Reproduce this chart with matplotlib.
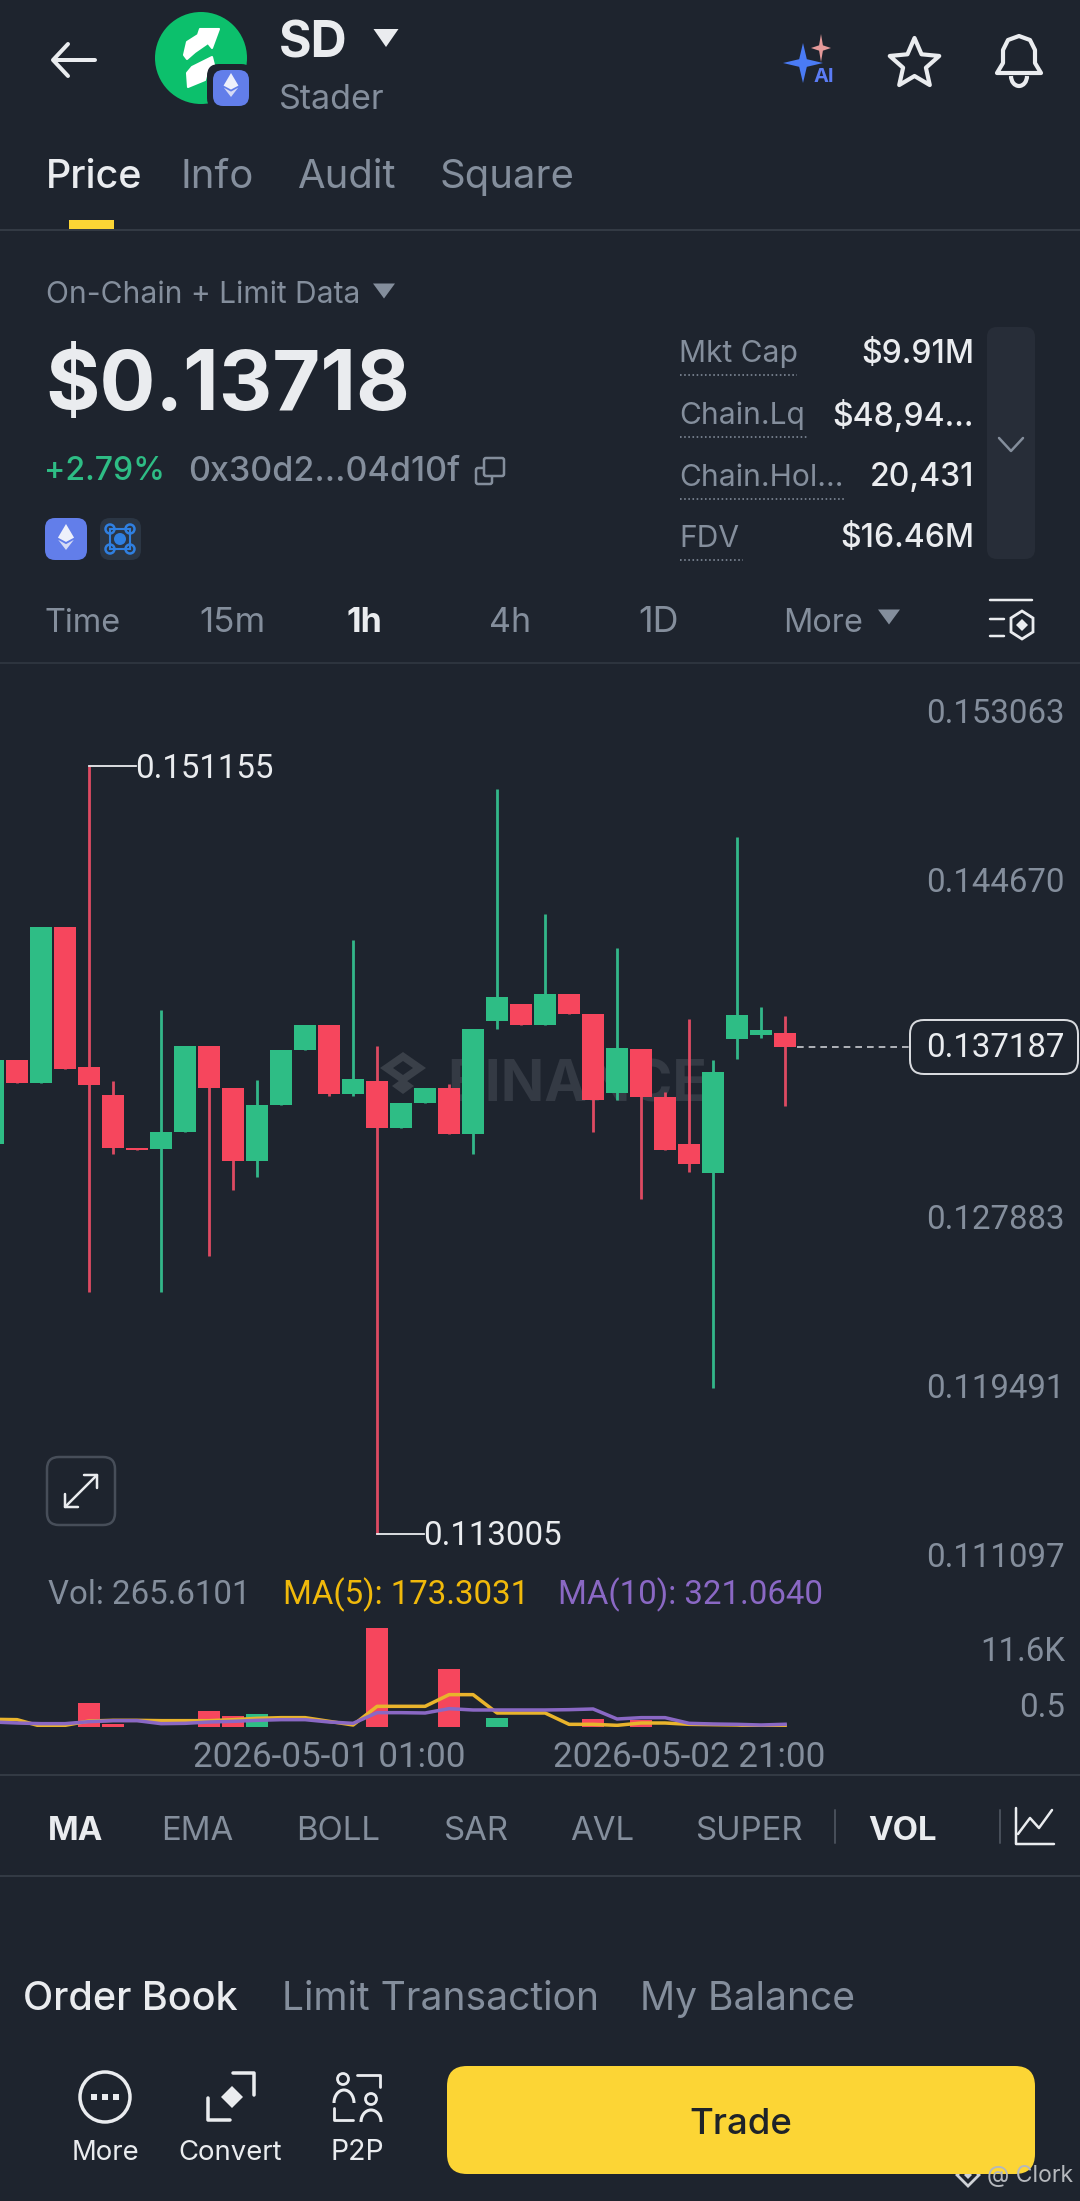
import numpy as np
import matplotlib
matplotlib.use("Agg")
import matplotlib.pyplot as plt
from matplotlib.patches import Circle, FancyBboxPatch, Polygon, Rectangle, Arc
from matplotlib.transforms import Affine2D

# ---------- data ----------
candle_idx = list(range(34))
opens = [0.132358,0.136527,0.135396,0.143180,0.136217,0.134820,0.132203,0.132136,0.132957,0.137237,0.135152,0.131537,
         0.134310,0.137059,0.138301,0.134864,0.135529,0.133156,0.134398,0.135152,0.132868,0.138501,0.139322,0.138279,
         0.139832,0.138834,0.134908,0.137104,0.134731,0.132358,0.130916,0.137614,0.137813,0.137880]
closes = [0.136527,0.135396,0.143180,0.136084,0.135285,0.132203,0.132092,0.132957,0.137237,0.135152,0.131537,0.134310,
          0.137059,0.138301,0.134842,0.135618,0.133156,0.134398,0.135152,0.132868,0.138080,0.139676,0.138279,0.139832,
          0.138834,0.134576,0.137126,0.134731,0.132070,0.131360,0.135951,0.138767,0.138035,0.137187]
highs = [0.136527,0.136527,0.143180,0.143180,0.151155,0.135507,0.132203,0.139011,0.137237,0.137237,0.135152,0.135551,
         0.137059,0.138301,0.138301,0.142493,0.137237,0.134398,0.135152,0.135352,0.138080,0.149989,0.139322,0.143823,
         0.139832,0.138834,0.142116,0.137104,0.134975,0.138612,0.136572,0.147638,0.139188,0.138745]
lows = [0.132358,0.135396,0.135396,0.136084,0.125040,0.131870,0.132092,0.125040,0.132957,0.126814,0.130074,0.130739,
        0.134310,0.137059,0.134753,0.134753,0.113005,0.133156,0.134398,0.132868,0.131870,0.138080,0.138279,0.138279,
        0.138834,0.132979,0.134576,0.129652,0.132070,0.131005,0.120271,0.136616,0.137636,0.134265]
price_ticks = [0.153063,0.144670,0.127883,0.119491,0.111097]
price_tick_labels = ["0.153063","0.144670","0.127883","0.119491","0.111097"]
high_label, low_label, last_price = 0.151155, 0.113005, 0.137187

volumes = [40,40,40,40,2860,392,40,40,40,1840,1254,1528,40,40,40,40,11600,40,40,6820,40,1019,40,40,40,901,40,784,40,40,40,40,40,40]
ma5 = [902,862,78,196,706,784,784,745,745,745,862,1019,1098,1098,666,235,2430,2430,2430,3802,3802,1646,1646,1646,314,314,196,470,470,314,274,235,78,173]
ma10 = [588,470,392,392,627,745,745,392,431,588,666,784,862,862,588,431,1685,1685,1646,2156,2000,2000,2000,2000,2038,2117,941,1098,1098,431,353,314,235,321]
vol_ticks_values = [11600, 0]
vol_tick_labels = ["11.6K", "0.5"]
date_ticks = [14, 29]
date_labels = ["2026-05-01 01:00", "2026-05-02 21:00"]

# ---------- style ----------
W, H = 1080, 2201
BG = "#1e242e"; UP = "#2EBD85"; DOWN = "#F6465D"; UPW = "#33b689"; DOWNW = "#dd4a62"
WHITE = "#eaecef"; GRAY = "#848e9c"; LINE = "#333a44"; YEL = "#fcd535"
MA5C = "#e9b42c"; MA10C = "#8a68c4"
plt.rcParams['font.family'] = ['Inter', 'DejaVu Sans']
NUM = ['Roboto', 'DejaVu Sans']

fig = plt.figure(figsize=(W/100, H/100), dpi=100, facecolor=BG)
ui = fig.add_axes([0, 0, 1, 1], zorder=0)
ui.set_xlim(0, W); ui.set_ylim(H, 0); ui.axis("off")

def T(x, y, s, px, color=WHITE, weight="normal", ha="left", ax=ui, **kw):
    return ax.text(x, y+6, s, fontsize=px*0.72, color=color, fontweight=weight, ha=ha, va="center", **kw)
def L(xs, ys, color=WHITE, lw=2.0, **kw):
    kw.setdefault("solid_capstyle", "round"); kw.setdefault("solid_joinstyle", "round")
    ui.plot(xs, ys, color=color, lw=lw*0.72, **kw)
def RR(x0, y0, x1, y1, r, fc="none", ec="none", lw=0, z=2):
    ui.add_patch(FancyBboxPatch((x0+r, y0+r), x1-x0-2*r, y1-y0-2*r, boxstyle=f"round,pad={r}",
                                fc=fc, ec=ec, lw=lw*0.72, zorder=z))
def TRI(cx, cy, w, h, color):
    ui.add_patch(Polygon([(cx-w/2, cy-h/2), (cx+w/2, cy-h/2), (cx, cy+h/2)], fc=color, ec="none"))
def SPARK(cx, cy, rx, ry, color, z=3):
    pts = []
    for i in range(8):
        a = np.pi/2*i/2
        k = 1 if i % 2 == 0 else 0.27
        pts.append((cx+k*rx*np.sin(a), cy-k*ry*np.cos(a)))
    ui.add_patch(Polygon(pts, fc=color, ec="none", zorder=z))
def ETH(cx, cy, s):
    ui.add_patch(Polygon([(cx, cy-s), (cx+0.62*s, cy+0.05*s), (cx, cy+0.38*s), (cx-0.62*s, cy+0.05*s)], fc="#eef0fb", ec="none", zorder=6))
    ui.add_patch(Polygon([(cx, cy+0.55*s), (cx+0.6*s, cy+0.22*s), (cx, cy+1.0*s), (cx-0.6*s, cy+0.22*s)], fc="#d6dbf5", ec="none", zorder=6))

# ---------- header ----------
L([54, 95], [60, 60], lw=4); L([68, 53, 68], [44, 60, 76], lw=4)
ui.add_patch(Circle((201, 58), 46, fc="#0cc06c", ec="none"))
ui.add_patch(Polygon([(184,55),(187,42),(198,35),(200,29),(219,29),(212,48),(208,43),(195,52),(187,59)], fc="white", ec="white", lw=1.5, joinstyle="round", zorder=3))
ui.add_patch(Polygon([(187,73),(192,67),(212,57),(214,65),(207,72),(205,80),(188,87)], fc="white", ec="white", lw=1.5, joinstyle="round", zorder=3))
RR(207, 64, 253, 110, 12, fc=BG, z=4)
RR(213, 70, 249, 106, 10, fc="#627eea", z=5)
ETH(231, 85, 12)
T(279, 38, "SD", 50, weight="bold")
TRI(386, 38, 25, 18, WHITE)
T(279, 94, "Stader", 34, GRAY)
SPARK(803, 63, 20, 20, "#4a7bf5")
SPARK(821, 48, 10, 14, "#e59a9a")
T(824, 71, "AI", 20, "#5b7cf5", weight="bold", ha="center")
a = np.linspace(-np.pi/2, 1.5*np.pi, 11)[:-1]
r = np.where(np.arange(10) % 2 == 0, 26, 12)
ui.add_patch(Polygon(np.c_[914.5+r*np.cos(a), 64+r*np.sin(a)], fc="none", ec=WHITE, lw=3, joinstyle="round"))
ui.add_patch(Polygon([(997,73),(1003,63),(1003,50),(1008,40),(1019,36),(1030,40),(1035,50),(1035,63),(1041,73)], fc="none", ec=WHITE, lw=3, joinstyle="round"))
ui.add_patch(Arc((1019, 76), 16, 20, theta1=0, theta2=180, ec=WHITE, lw=3))

# ---------- tabs ----------
T(46, 171, "Price", 39.5, WHITE, weight="medium")
T(181, 171, "Info", 40, GRAY); T(298, 171, "Audit", 40, GRAY); T(440, 171, "Square", 40, GRAY)
ui.add_patch(Rectangle((69, 220), 45, 9, fc=YEL, ec="none"))
L([0, W], [230, 230], LINE, 2)

# ---------- price block ----------
T(46, 289, "On-Chain + Limit Data", 30, GRAY)
TRI(384, 291, 22, 15, GRAY)
T(45, 382, "$0.13718", 83, WHITE, weight="bold")
T(44, 466, "+2.79%", 32, UP, weight="medium")
T(188, 466, "0x30d2...04d10f", 34, GRAY, weight="medium")
RR(476, 468, 492, 484, 2, ec=GRAY, lw=2.5); RR(484, 458, 504, 476, 2, ec=GRAY, lw=2.5, fc=BG, z=3)
RR(45, 518, 87, 560, 10, fc="#627eea"); ETH(66, 537, 13)
RR(100, 518, 141, 560, 10, fc="#2b3644")
for dx, dy in [(-10,-10),(10,-10),(-10,10),(10,10)]:
    ui.add_patch(Circle((120+dx, 539+dy), 4.5, fc="none", ec="#2f7fe0", lw=1.8, zorder=4))
ui.add_patch(Rectangle((110, 529), 20, 20, fc="none", ec="#2f7fe0", lw=1.5, zorder=4))
ui.add_patch(Circle((120, 539), 6, fc="#2f7fe0", ec="none", zorder=4))

rows = [("Mkt Cap", "$9.91M", 348, 117), ("Chain.Lq", "$48,94...", 410, 127),
        ("Chain.Hol...", "20,431", 472, 165), ("FDV", "$16.46M", 533, 63)]
for name, val, y, ulw in rows:
    T(679, y, name, 30, GRAY)
    T(974, y, val, 32, WHITE, ha="right", weight="medium")
    L([680, 680+ulw], [y+27, y+27], GRAY, 1.6, linestyle=(0, (1, 1.6)))
RR(987, 327, 1035, 559, 10, fc="#272d38")
L([999, 1011, 1023], [438, 451, 438], GRAY, 2.5)

# ---------- timeframes ----------
for x, s, c, w, sz in [(45,"Time",GRAY,"normal",32.5),(199,"15m",GRAY,"normal",35),(346,"1h",WHITE,"bold",34),
                       (489,"4h",GRAY,"normal",34),(638,"1D",GRAY,"normal",36),(783,"More",GRAY,"normal",32.5)]:
    T(x, 617, s, sz, c, weight=w)
TRI(889, 617, 22, 15, GRAY)
L([990, 1032], [600, 600], WHITE, 2.5)
L([990, 1004], [619, 619], WHITE, 2.5); L([990, 1004], [636, 636], WHITE, 2.5)
ui.add_patch(Polygon([(1011,618),(1022,611),(1033,618),(1033,632),(1022,639),(1011,632)], fc="none", ec=WHITE, lw=2))
ui.add_patch(Polygon([(1022,619),(1028,625),(1022,631),(1016,625)], fc=WHITE, ec="none"))
L([0, W], [663, 663], LINE, 1.5)

# ---------- watermark ----------
ui.add_patch(Polygon([(403,1052),(426,1068),(403,1084),(380,1068)], fc="#3a4049", ec="none"))
ui.add_patch(Polygon([(403,1061),(413,1068),(403,1075),(393,1068)], fc=BG, ec="none"))
ui.add_patch(Polygon([(403,1078),(414,1086),(403,1094),(392,1086)], fc="#3a4049", ec="none"))
T(447, 1080, "BINANCE", 57, "#343a44", weight="bold")

# ---------- price chart ----------
def px_to_frac(y):
    return 1 - y/H
top, bot = 664, 1590
ax = fig.add_axes([0, px_to_frac(bot), 1, (bot-top)/H], zorder=2)
ax.patch.set_alpha(0)
def price_at(y):
    return high_label - (y-766)/20131
ax.set_ylim(price_at(bot), price_at(top))
xl = (0+6.9)/24, (W+6.9)/24
ax.set_xlim(*xl)
for s in ax.spines.values():
    s.set_visible(False)
c_idx = np.array(candle_idx); o = np.array(opens); c = np.array(closes); h = np.array(highs); l = np.array(lows)
up = c >= o
ax.vlines(c_idx[up], l[up], h[up], color=UPW, lw=2.8*0.72, zorder=2)
ax.vlines(c_idx[~up], l[~up], h[~up], color=DOWNW, lw=2.8*0.72, zorder=2)
ax.bar(c_idx[up], (c-o)[up], bottom=o[up], width=0.89, color=UP, zorder=3)
ax.bar(c_idx[~up], (o-c)[~up], bottom=c[~up], width=0.89, color=DOWN, zorder=3)
ax.set_xticks([])
ax.yaxis.tick_right()
ax.set_yticks(price_ticks, price_tick_labels)
ax.tick_params(axis="y", length=0, pad=-11, labelsize=33*0.72, labelcolor=GRAY)
for lab in ax.get_yticklabels():
    lab.set_ha("right"); lab.set_va("bottom"); lab.set_fontfamily(NUM)
    lab.set_transform(lab.get_transform() + Affine2D().translate(0, -2))

ix_hi = int(np.argmax(h)); ix_lo = int(np.argmin(l))
ax.plot([ix_hi, ix_hi+1.95], [high_label]*2, color=WHITE, lw=1.3, zorder=4)
ax.annotate(f"{high_label:.6f}", xy=(ix_hi+1.9, high_label), xytext=(0, -3), textcoords="offset pixels",
            color=WHITE, fontsize=33*0.72, ha="left", va="center", zorder=4, family=NUM)
ax.plot([ix_lo, ix_lo+1.95], [low_label]*2, color=WHITE, lw=1.3, zorder=4)
ax.annotate(f"{low_label:.6f}", xy=(ix_lo+1.9, low_label), xytext=(0, -2), textcoords="offset pixels",
            color=WHITE, fontsize=33*0.72, ha="left", va="center", zorder=4, family=NUM)
ax.plot([33.5, (909+6.9)/24], [last_price]*2, color="#c9ccd1", lw=1.2, ls=(0, (4, 3)), zorder=4)
ax.annotate(f"{last_price:.6f}", xy=(1, last_price), xycoords=("axes fraction", "data"),
            xytext=(-15, -1), textcoords="offset pixels", ha="right", va="center",
            color=WHITE, fontsize=33*0.72, zorder=6, family=NUM)
RR(910, 1020, 1078, 1074, 14, fc=BG, ec="#d8dade", lw=2, z=1)

# expand button
RR(47, 1457, 115, 1525, 12, ec="#474e59", lw=2.5)
L([65, 97], [1507, 1475], WHITE, 2.5)
L([65, 65, 78], [1494, 1507, 1507], WHITE, 2.5); L([84, 97, 97], [1475, 1475, 1488], WHITE, 2.5)

# ---------- volume legend ----------
T(48, 1589, "Vol: 265.6101", 33, GRAY, family=NUM)
T(283, 1589, "MA(5): 173.3031", 33, "#f0b90b", family=NUM)
T(558, 1589, "MA(10): 321.0640", 33, MA10C, family=NUM)

# ---------- volume chart ----------
vtop, vbot = 1610, 1727
vax = fig.add_axes([0, px_to_frac(vbot), 1, (vbot-vtop)/H], zorder=2)
vax.patch.set_alpha(0)
vax.set_xlim(*xl)
vax.set_ylim(0, 11600*(vbot-vtop)/98.7)
for s in vax.spines.values():
    s.set_visible(False)
v = np.array(volumes)
vax.bar(c_idx[up], v[up], width=0.89, color=UP, zorder=2)
vax.bar(c_idx[~up], v[~up], width=0.89, color=DOWN, zorder=2)
vax.plot(c_idx, ma5, color=MA5C, lw=3.5*0.72, zorder=3)
vax.plot(c_idx, ma10, color=MA10C, lw=3.5*0.72, zorder=4)
vax.set_yticks([])
vax.set_xticks(date_ticks, date_labels)
vax.tick_params(axis="x", length=0, pad=10, labelsize=35*0.72, labelcolor=GRAY)
for lab in vax.get_xticklabels():
    lab.set_fontfamily(NUM)
for val, lab, off in zip(vol_ticks_values, vol_tick_labels, (-24, 19)):
    vax.annotate(lab, xy=(1, val), xycoords=("axes fraction", "data"), xytext=(-15, off),
                 textcoords="offset pixels", ha="right", va="center", color=GRAY, fontsize=33*0.72,
                 annotation_clip=False, family=NUM)
L([0, W], [1775, 1775], LINE, 2)

# ---------- indicator row ----------
for x, s, col, w in [(48,"MA",WHITE,"bold"),(161,"EMA",GRAY,"normal"),(296,"BOLL",GRAY,"normal"),(443,"SAR",GRAY,"normal"),
                     (570,"AVL",GRAY,"normal"),(695,"SUPER",GRAY,"normal"),(868,"VOL",WHITE,"bold")]:
    T(x, 1825, s, 33, col, weight=w)
L([835, 835], [1810, 1843], "#474e59", 2); L([1000, 1000], [1810, 1843], "#474e59", 2)
L([1016, 1016, 1054], [1808, 1844, 1844], WHITE, 2.5)
L([1018, 1030, 1039, 1052], [1834, 1818, 1828, 1810], WHITE, 2.5)
L([0, W], [1876, 1876], LINE, 2)

# ---------- order book tabs ----------
T(23, 1994, "Order Book", 39.5, WHITE, weight="medium")
T(282, 1994, "Limit Transaction", 39, GRAY)
T(640, 1994, "My Balance", 39, GRAY)

# ---------- bottom bar ----------
ui.add_patch(Circle((105, 2097), 25, fc="none", ec=WHITE, lw=2.5))
for dx in (-11, 0, 11):
    ui.add_patch(Rectangle((105+dx-3, 2094), 6, 6, fc=WHITE, ec="none"))
T(105, 2147, "More", 27.5, WHITE, ha="center")
ui.add_patch(Polygon([(232,2086),(243,2097),(232,2108),(221,2097)], fc=WHITE, ec="none"))
L([208, 208, 230], [2098, 2120, 2120], WHITE, 3.5); L([233, 254, 254], [2073, 2073, 2095], WHITE, 3.5)
T(230, 2147, "Convert", 27.5, WHITE, ha="center")
ui.add_patch(Circle((343, 2079), 5.5, fc="none", ec=WHITE, lw=2)); ui.add_patch(Circle((371, 2099), 5.5, fc="none", ec=WHITE, lw=2))
ui.add_patch(Arc((344, 2103), 20, 26, theta1=180, theta2=360, ec=WHITE, lw=2.2)); ui.add_patch(Arc((371, 2122), 20, 24, theta1=180, theta2=360, ec=WHITE, lw=2.2))
L([334, 334, 353], [2108, 2120, 2120], WHITE, 2.8); L([357, 380, 380], [2075, 2075, 2087], WHITE, 2.8)
T(357, 2147, "P2P", 28.5, WHITE, ha="center")
RR(447, 2066, 1035, 2174, 20, fc=YEL)
T(741, 2118, "Trade", 36.5, "#1e2329", weight="medium", ha="center", zorder=5)
ui.add_patch(Polygon([(968,2164),(979,2175),(968,2186),(957,2175)], fc="none", ec="#cfd2d6", lw=2))
ui.add_patch(Polygon([(968,2171),(972,2175),(968,2179),(964,2175)], fc="#cfd2d6", ec="none"))
T(987, 2170, "@ Clork", 23, "#b5b8bd")

fig.savefig("out.png", dpi=100, facecolor=BG)
